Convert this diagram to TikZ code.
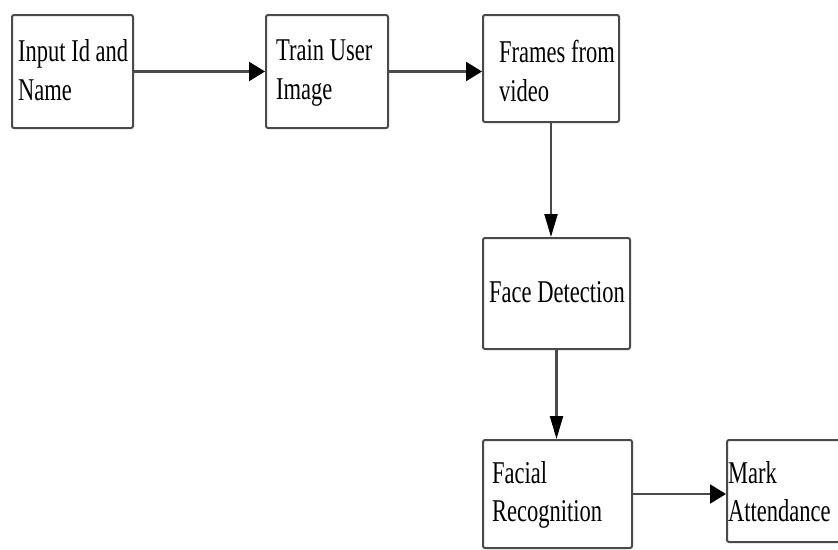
\documentclass[tikz,border=0pt]{standalone}
\usepackage{fontspec}
\setmainfont{Liberation Serif}[FakeStretch=0.71]
\usetikzlibrary{arrows.meta}
\definecolor{edgegray}{HTML}{4A4A4A}
\begin{document}
\begin{tikzpicture}[x=1pt,y=-1pt,
  box/.style={draw=edgegray, line width=2pt, rounded corners=2pt, fill=white, inner sep=0pt},
  lbl/.style={anchor=base west, align=left, inner sep=0pt, text=black,
    font=\fontsize{31.7}{38.5}\selectfont},
  harrow/.style={draw=edgegray, line width=2.2pt, -{Triangle[length=16pt,width=19pt,color=black]}},
  varrow/.style={draw=edgegray, line width=2.2pt, -{Triangle[length=23pt,width=13pt,color=black]}}]
\useasboundingbox (0,0) rectangle (838,549);
\clip (0,0) rectangle (838,549);
\fill[white] (0,0) rectangle (838,549);
\node[box, minimum width=121pt, minimum height=113pt] (b1) at (72.5,71.5) {};
\node[box, minimum width=122pt, minimum height=113pt] (b2) at (327,71.5) {};
\node[box, minimum width=136pt, minimum height=107pt] (b3) at (551,68.5) {};
\node[box, minimum width=147pt, minimum height=111pt] (b4) at (556.5,293.5) {};
\node[box, minimum width=149pt, minimum height=108pt] (b5) at (557.5,494) {};
\node[box, minimum width=123pt, minimum height=102pt] (b6) at (788.5,491) {};
% two-line labels: base anchor is the baseline of the last line
\node[lbl] (t1) at (18,100) {Input Id and\\Name};
\node[lbl] (t2) at (276,99) {Train User\\Image};
\node[lbl] (t3) at (499,101) {Frames from\\video};
\node[lbl] (t4) at (489,302) {Face Detection};
\node[lbl] (t5) at (492,521.5) {Facial\\Recognition};
\node[lbl] (t6) at (728,521.5) {Mark\\Attendance};
\draw[harrow] (b1.east) -- (b1.east -| b2.west);
\draw[harrow] (b2.east) -- (b2.east -| b3.west);
\draw[varrow] (b3.south) -- (b3.south |- b4.north);
\draw[varrow] (b4.south) -- (b4.south |- b5.north);
\draw[harrow] (b5.east) -- (b5.east -| b6.west);
\end{tikzpicture}
\end{document}
